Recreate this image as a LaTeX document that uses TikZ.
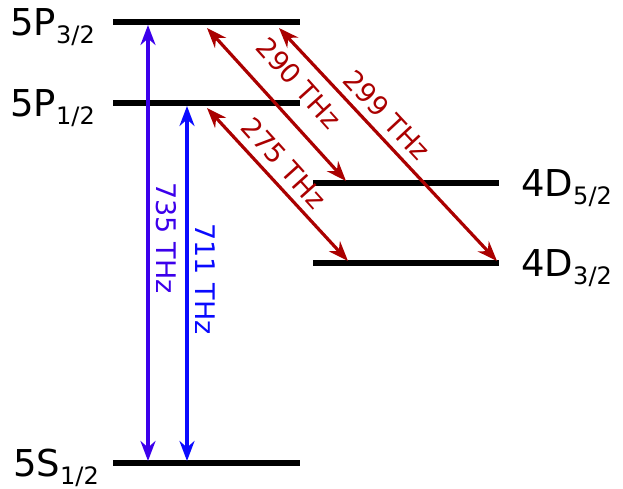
\documentclass[tikz,border=0pt]{standalone}
\usepackage{fontspec}
\setmainfont{DejaVu Sans}
\usetikzlibrary{arrows.meta}
\definecolor{dred}{RGB}{170,0,0}
\definecolor{vblue}{RGB}{60,0,235}
\definecolor{pblue}{RGB}{10,10,255}
\newcommand{\sbx}[1]{\raisebox{-8pt}{\fontsize{24}{26}\selectfont #1}}
\tikzset{lvl/.style={line width=6pt},
 lab/.style={font=\fontsize{37}{40}\selectfont,inner sep=0pt},
 tr/.style={line width=3.2pt,{Stealth[length=20pt,width=15pt]}-{Stealth[length=20pt,width=15pt]}},
 tl/.style={font=\fontsize{27}{30}\selectfont,inner sep=0pt}}
\begin{document}
\begin{tikzpicture}[x=1pt,y=-1pt]
\useasboundingbox (0,0) rectangle (623,489);
\draw[lvl] (113,22) coordinate (a1) -- (300,22) coordinate (a2);
\draw[lvl] (113,103) coordinate (b1) -- (300,103) coordinate (b2);
\draw[lvl] (313,183) coordinate (c1) -- (499,183) coordinate (c2);
\draw[lvl] (313,263) coordinate (d1) -- (499,263) coordinate (d2);
\draw[lvl] (113,463) coordinate (e1) -- (300,463) coordinate (e2);
\node[lab,anchor=east] (l1) at (95,27) {5P\sbx{3/2}};
\node[lab,anchor=east] (l2) at (95,108) {5P\sbx{1/2}};
\node[lab,anchor=west] (l3) at (521,188) {4D\sbx{5/2}};
\node[lab,anchor=west] (l4) at (521,268) {4D\sbx{3/2}};
\node[lab,anchor=east] (l5) at (99,468) {5S\sbx{1/2}};
\coordinate (p1) at (148,25); \coordinate (q1) at (148,461);
\coordinate (p2) at (187,106); \coordinate (q2) at (187,461);
\draw[tr,vblue] (p1) -- (q1);
\draw[tr,pblue] (p2) -- (q2);
\node[tl,vblue,rotate=-90] (t1) at (166,238) {735 THz};
\node[tl,pblue,rotate=-90] (t2) at (205,279) {711 THz};
\coordinate (r1) at (207,28); \coordinate (s1) at (346,181);
\coordinate (r2) at (207,108); \coordinate (s2) at (348,261);
\coordinate (r3) at (279,28); \coordinate (s3) at (497,261);
\draw[tr,dred] (r1) -- (s1);
\draw[tr,dred] (r2) -- (s2);
\draw[tr,dred] (r3) -- (s3);
\node[tl,dred,rotate=-48] (t3) at (299,83) {290 THz};
\node[tl,dred,rotate=-48] (t4) at (284,163) {275 THz};
\node[tl,dred,rotate=-47] (t5) at (387,115) {299 THz};
\end{tikzpicture}
\end{document}
